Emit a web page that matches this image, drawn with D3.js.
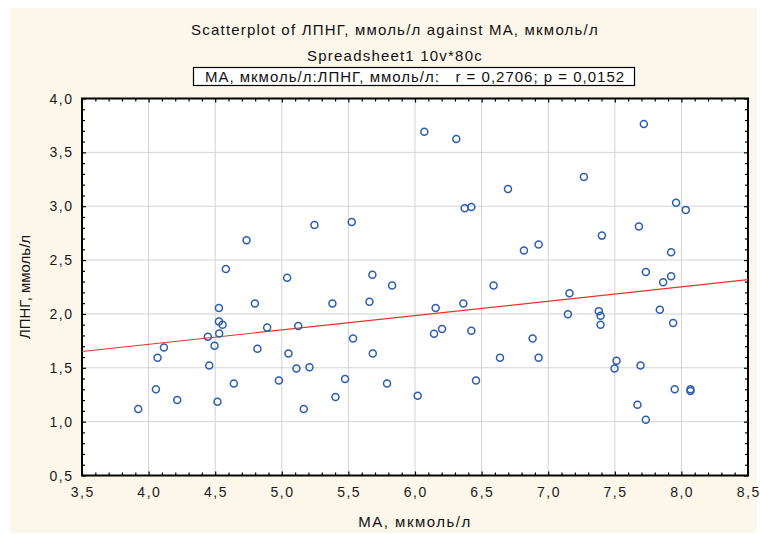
<!DOCTYPE html>
<html>
<head>
<meta charset="utf-8">
<script src="https://cdn.jsdelivr.net/npm/d3@7/dist/d3.min.js"></script>
<style>
  html, body { margin: 0; padding: 0; background: #fff; }
  svg { display: block; }
  .lbl { font-family: "Liberation Sans", Arial, sans-serif; }
</style>
</head>
<body>
<svg id="chart" width="760" height="534"></svg>
<script>
// MA, мкмоль/л
const maValues = [
  4.735, 4.58, 5.04, 4.528, 4.798, 4.528, 4.555, 4.89, 5.123, 4.445,
  4.53, 4.115, 4.067, 4.495, 4.817, 5.05, 4.455, 5.11, 4.055, 4.978,
  4.64, 4.215, 4.517, 3.922, 5.165, 5.245, 5.525, 6.07, 6.31, 6.698,
  6.373, 6.423, 6.818, 5.68, 5.828, 6.59, 5.38, 5.658, 6.155, 6.363,
  5.535, 6.143, 6.203, 6.423, 5.683, 6.638, 5.208, 5.475, 5.79, 6.458,
  5.403, 6.02, 7.718, 7.268, 7.96, 8.033, 7.681, 7.403, 6.928, 7.923,
  7.733, 7.923, 7.863, 7.16, 7.148, 7.38, 7.393, 7.393, 7.838, 7.938,
  6.883, 6.928, 7.513, 7.498, 7.693, 7.95, 8.068, 8.068, 7.67, 7.733
];
// ЛПНГ, ммоль/л
const lpngValues = [
  2.685, 2.418, 2.335, 2.054, 2.097, 1.929, 1.899, 1.874, 1.887, 1.788,
  1.818, 1.688, 1.593, 1.704, 1.676, 1.633, 1.521, 1.494, 1.30, 1.382,
  1.354, 1.20, 1.185, 1.117, 1.117, 2.826, 2.854, 3.692, 3.624, 3.16,
  2.981, 2.993, 2.588, 2.363, 2.264, 2.264, 2.097, 2.112, 2.054, 2.097,
  1.772, 1.815, 1.859, 1.843, 1.633, 1.593, 1.506, 1.395, 1.354, 1.382,
  1.228, 1.24, 3.763, 3.272, 3.033, 2.966, 2.811, 2.727, 2.644, 2.573,
  2.39, 2.35, 2.295, 2.193, 1.998, 2.026, 1.982, 1.899, 2.038, 1.915,
  1.772, 1.593, 1.565, 1.494, 1.522, 1.30, 1.30, 1.284, 1.157, 1.018
];
// regression line ends
const fitX = [3.5, 8.5];
const fitY = [1.651, 2.318];

const xTicks = [3.5, 4.0, 4.5, 5.0, 5.5, 6.0, 6.5, 7.0, 7.5, 8.0, 8.5];
const yTicks = [0.5, 1.0, 1.5, 2.0, 2.5, 3.0, 3.5, 4.0];

const titleText = "Scatterplot of ЛПНГ, ммоль/л against MA, мкмоль/л";
const subtitleText = "Spreadsheet1 10v*80c";
const statText = "MA, мкмоль/л:ЛПНГ, ммоль/л:   r = 0,2706; p = 0,0152";
const xLabel = "MA, мкмоль/л";
const yLabel = "ЛПНГ, ммоль/л";

const fmt = (d) => d3.format(".1f")(d).replace(".", ",");

const svg = d3.select("#chart");
const plot = { left: 82, right: 748, top: 98.5, bottom: 475.5 };

const x = d3.scaleLinear().domain([3.5, 8.5]).range([plot.left, plot.right]);
const y = d3.scaleLinear().domain([0.5, 4.0]).range([plot.bottom, plot.top]);

// background panel
svg.append("rect")
  .attr("x", 10).attr("y", 8).attr("width", 747).attr("height", 525)
  .attr("fill", "#fdf6ea");

svg.append("rect")
  .attr("x", plot.left).attr("y", plot.top)
  .attr("width", plot.right - plot.left).attr("height", plot.bottom - plot.top)
  .attr("fill", "#fff");

// ── grid ──
const grid = svg.append("g").attr("stroke", "#d3d3d3").attr("stroke-width", 1);
grid.selectAll(".gx").data(xTicks.slice(1, -1)).enter().append("line")
  .attr("x1", (d) => x(d)).attr("x2", (d) => x(d))
  .attr("y1", plot.top).attr("y2", plot.bottom);
grid.selectAll(".gy").data(yTicks.slice(1, -1)).enter().append("line")
  .attr("y1", (d) => y(d)).attr("y2", (d) => y(d))
  .attr("x1", plot.left).attr("x2", plot.right);

// ── inward ticks on all four sides ──
const xMinor = d3.range(35, 86).map((v) => v / 10);
const yMinor = d3.range(5, 41).map((v) => v / 10);
const isMajor = (v) => Math.abs(v * 2 - Math.round(v * 2)) < 1e-6;

function ticksOn(axis, pos, sign, horiz) {
  svg.append("g")
    .attr("transform", horiz ? `translate(0,${pos})` : `translate(${pos},0)`)
    .call(axis.tickSizeOuter(0).tickFormat(""))
    .call((g) => g.select(".domain").remove())
    .call((g) => g.selectAll(".tick line")
      .attr(horiz ? "y2" : "x2", (d) => sign * (isMajor(d) ? 4 : 3))
      .attr("stroke-width", 1.2));
}
ticksOn(d3.axisBottom(x).tickValues(xMinor), plot.bottom, -1, true);
ticksOn(d3.axisTop(x).tickValues(xMinor), plot.top, 1, true);
ticksOn(d3.axisLeft(y).tickValues(yMinor), plot.left, 1, false);
ticksOn(d3.axisRight(y).tickValues(yMinor), plot.right, -1, false);

// tick labels
svg.append("g").attr("class", "lbl")
  .selectAll("text").data(xTicks).enter().append("text")
  .attr("x", (d) => x(d) + 0.75).attr("y", 497)
  .attr("text-anchor", "middle").attr("font-size", 14).attr("fill", "#1a1a1a")
  .attr("letter-spacing", 1.5)
  .text(fmt);
svg.append("g").attr("class", "lbl")
  .selectAll("text").data(yTicks).enter().append("text")
  .attr("x", 73.5).attr("y", (d) => y(d) + 5)
  .attr("text-anchor", "end").attr("font-size", 14).attr("fill", "#1a1a1a")
  .attr("letter-spacing", 1.5)
  .text(fmt);

// frame
svg.append("rect")
  .attr("x", plot.left).attr("y", plot.top)
  .attr("width", plot.right - plot.left).attr("height", plot.bottom - plot.top)
  .attr("fill", "none").attr("stroke", "#000").attr("stroke-width", 2);

// regression line
svg.append("line")
  .attr("x1", x(fitX[0])).attr("y1", y(fitY[0]))
  .attr("x2", x(fitX[1])).attr("y2", y(fitY[1]))
  .attr("stroke", "#e8332a").attr("stroke-width", 1.2);

// points
svg.append("g")
  .selectAll("circle").data(maValues.map((v, i) => [v, lpngValues[i]])).enter().append("circle")
  .attr("cx", (d) => x(d[0])).attr("cy", (d) => y(d[1]))
  .attr("r", 3.5)
  .attr("fill", "none").attr("stroke", "#2a5db0").attr("stroke-width", 1.5);

// titles
svg.append("text").attr("class", "lbl")
  .attr("x", 395).attr("y", 35).attr("text-anchor", "middle")
  .attr("font-size", 15).attr("letter-spacing", 1.2).attr("fill", "#111").text(titleText);
svg.append("text").attr("class", "lbl")
  .attr("x", 395).attr("y", 61).attr("text-anchor", "middle")
  .attr("font-size", 15).attr("letter-spacing", 1.2).attr("fill", "#111").text(subtitleText);

svg.append("rect")
  .attr("x", 193.5).attr("y", 67.5).attr("width", 441).attr("height", 18)
  .attr("fill", "#fff").attr("stroke", "#000").attr("stroke-width", 1.2);
svg.append("text").attr("class", "lbl")
  .attr("x", 415).attr("y", 82).attr("text-anchor", "middle")
  .attr("font-size", 15).attr("letter-spacing", 1).attr("fill", "#111")
  .attr("xml:space", "preserve").style("white-space", "pre")
  .text(statText);

svg.append("text").attr("class", "lbl")
  .attr("x", 415).attr("y", 527).attr("text-anchor", "middle")
  .attr("font-size", 15).attr("letter-spacing", 1.5).attr("fill", "#111").text(xLabel);
svg.append("text").attr("class", "lbl")
  .attr("transform", "translate(30,287) rotate(-90)")
  .attr("text-anchor", "middle")
  .attr("font-size", 15).attr("fill", "#111").text(yLabel);
</script>
</body>
</html>
